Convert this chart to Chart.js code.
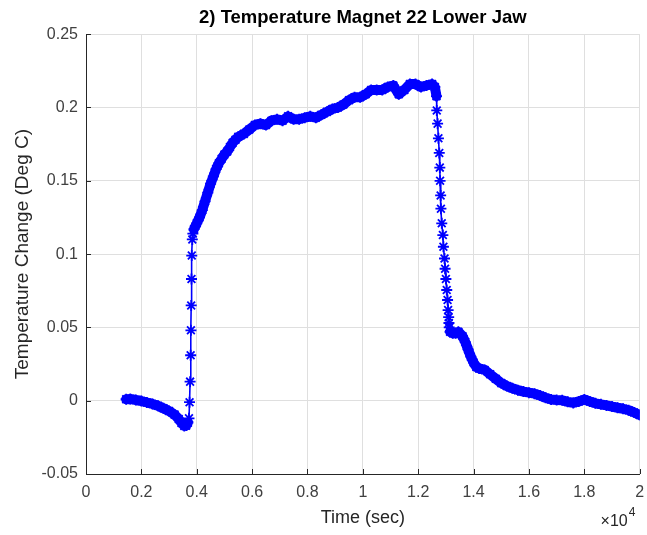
<!DOCTYPE html>
<html>
<head>
<meta charset="utf-8">
<title>Temperature Magnet 22 Lower Jaw</title>
<script src="https://cdn.jsdelivr.net/npm/chart.js@4.4.1/dist/chart.umd.min.js"></script>
<style>
    html, body { margin: 0; padding: 0; background: #fff; }
    canvas { display: block; }
</style>
</head>
<body>
<canvas id="temp-chart" width="647" height="535"></canvas>
<script>
// Time in units of 1e4 sec (axis shows x10^4), temperature change in Deg C
const timeE4 = [
    0.145, 0.16, 0.18, 0.20, 0.22, 0.24, 0.26, 0.28, 0.30, 0.32, 0.335, 0.345, 0.355, 0.362, 0.368,
    0.372, 0.374, 0.376, 0.378, 0.379, 0.380, 0.381, 0.382, 0.384, 0.386,
    0.39, 0.40, 0.41, 0.42, 0.43, 0.44, 0.45, 0.46, 0.47, 0.48, 0.49, 0.50, 0.51, 0.52, 0.53, 0.54, 0.55,
    0.57, 0.59, 0.61, 0.63, 0.65, 0.67, 0.69, 0.71, 0.73, 0.75, 0.77, 0.79, 0.81, 0.83, 0.85, 0.87, 0.89,
    0.91, 0.93, 0.95, 0.97, 0.99, 1.01, 1.03, 1.05, 1.07, 1.09, 1.11, 1.13, 1.15, 1.17, 1.19, 1.21, 1.23,
    1.25, 1.26,
    1.266, 1.267, 1.270, 1.273, 1.276, 1.278, 1.279, 1.281, 1.282, 1.285, 1.289, 1.291, 1.295, 1.297,
    1.300, 1.303, 1.306, 1.308, 1.310, 1.311, 1.312,
    1.315, 1.325, 1.335, 1.345, 1.36, 1.37, 1.38, 1.39, 1.40, 1.41, 1.42, 1.44, 1.46, 1.48, 1.50, 1.52,
    1.54, 1.56, 1.58, 1.60, 1.62, 1.64, 1.66, 1.68, 1.70, 1.72, 1.74, 1.76, 1.78, 1.80, 1.82, 1.84,
    1.86, 1.88, 1.90, 1.92, 1.94, 1.96, 1.98, 2.00
];

const tempChange = [
    0.001, 0.0012, 0.0005, -0.0002, -0.0012, -0.0022, -0.0035, -0.0052, -0.007, -0.0095, -0.0125, -0.0152, -0.0172, -0.017, -0.015,
    -0.012, -0.001, 0.013, 0.031, 0.048, 0.065, 0.083, 0.099, 0.110, 0.114,
    0.117, 0.121, 0.125, 0.130, 0.136, 0.142, 0.148, 0.153, 0.158, 0.162, 0.165, 0.168, 0.170, 0.173, 0.176, 0.178, 0.180,
    0.182, 0.185, 0.188, 0.189, 0.188, 0.191, 0.192, 0.191, 0.194, 0.192, 0.192, 0.193, 0.194, 0.193, 0.195, 0.197, 0.199,
    0.200, 0.202, 0.205, 0.207, 0.207, 0.209, 0.212, 0.212, 0.212, 0.214, 0.215, 0.209, 0.212, 0.216, 0.216, 0.214, 0.215,
    0.216, 0.214,
    0.2077, 0.198, 0.189, 0.179, 0.169, 0.159, 0.150, 0.140, 0.131, 0.121, 0.113, 0.105, 0.097, 0.090,
    0.083, 0.0755, 0.0687, 0.0618, 0.057, 0.053, 0.050,
    0.047, 0.046, 0.046, 0.047, 0.044, 0.040, 0.035, 0.030, 0.026, 0.023, 0.022, 0.021, 0.018, 0.015, 0.012, 0.010,
    0.0085, 0.0072, 0.0062, 0.0055, 0.0048, 0.0035, 0.002, 0.0008, 0.0005, 0.0003, -0.0008, -0.0015, -0.0005, 0.0008, -0.0005, -0.0018,
    -0.0025, -0.0032, -0.004, -0.0048, -0.0055, -0.0065, -0.008, -0.0098
];

const xTicks = [0, 0.2, 0.4, 0.6, 0.8, 1, 1.2, 1.4, 1.6, 1.8, 2];
const yTicks = [-0.05, 0, 0.05, 0.1, 0.15, 0.2, 0.25];

const FONT = '"Liberation Sans", Arial, Helvetica, sans-serif';
const AXIS_COLOR = '#262626';

const TempChart = {
    chart: null,

    init: function() {
        const ctx = document.getElementById('temp-chart');
        if (!ctx) return;

        this.chart = new Chart(ctx, {
            type: 'line',
            data: {
                datasets: [{
                    label: 'Magnet 22 Lower Jaw',
                    data: timeE4.map((t, i) => ({ x: t, y: tempChange[i] })),
                    borderColor: 'rgb(0, 0, 255)',
                    backgroundColor: 'rgb(0, 0, 255)',
                    borderWidth: 1.6,
                    borderCapStyle: 'round',
                    borderJoinStyle: 'round',
                    tension: 0,
                    pointStyle: 'star',
                    pointRadius: 5.5,
                    pointBorderWidth: 1.8,
                    pointBorderColor: 'rgb(0, 0, 255)',
                    // densely sampled stretches read as a thick band of markers
                    segment: {
                        borderWidth: c => (c.p1.parsed.x - c.p0.parsed.x) < 0.006 ? 1.6 : 10
                    }
                }]
            },
            options: {
                responsive: false,
                animation: false,
                devicePixelRatio: 1,
                layout: { padding: { top: 0, right: 6, bottom: 0, left: 0 } },
                plugins: {
                    legend: { display: false },
                    tooltip: { enabled: false },
                    title: {
                        display: true,
                        fullSize: false,
                        text: '2) Temperature Magnet 22 Lower Jaw',
                        color: '#000',
                        font: { family: FONT, size: 18.5, weight: 'bold' },
                        padding: { top: 7, bottom: 5 }
                    }
                },
                scales: {
                    x: {
                        type: 'linear',
                        min: 0,
                        max: 2,
                        afterBuildTicks: scale => { scale.ticks = xTicks.map(v => ({ value: v })); },
                        afterFit: scale => {
                            scale.height = 61;
                            scale.paddingLeft = 0;
                            scale.paddingRight = 0;
                        },
                        ticks: {
                            color: '#404040',
                            font: { family: FONT, size: 16 },
                            padding: 9,
                            maxRotation: 0,
                            callback: v => String(parseFloat(v.toFixed(2)))
                        },
                        grid: { color: '#dfdfdf', drawTicks: false },
                        border: { color: AXIS_COLOR, width: 1 },
                        title: {
                            display: true,
                            text: 'Time (sec)',
                            color: AXIS_COLOR,
                            font: { family: FONT, size: 18 },
                            padding: { top: 0, bottom: 6 }
                        }
                    },
                    y: {
                        type: 'linear',
                        min: -0.05,
                        max: 0.25,
                        afterBuildTicks: scale => { scale.ticks = yTicks.map(v => ({ value: v })); },
                        afterFit: scale => {
                            scale.width = 86;
                            scale.paddingTop = 0;
                            scale.paddingBottom = 0;
                        },
                        ticks: {
                            color: '#404040',
                            font: { family: FONT, size: 16 },
                            padding: 8,
                            callback: v => String(parseFloat(v.toFixed(2)))
                        },
                        grid: { color: '#dfdfdf', drawTicks: false },
                        border: { color: AXIS_COLOR, width: 1 },
                        title: {
                            display: true,
                            text: 'Temperature Change (Deg C)',
                            color: AXIS_COLOR,
                            font: { family: FONT, size: 19 },
                            padding: { top: 11, bottom: 0 }
                        }
                    }
                }
            },
            plugins: [this.axisDecor]
        });
    },

    // MATLAB style inward ticks and the x10^4 exponent label
    axisDecor: {
        id: 'axisDecor',
        beforeDatasetsDraw: function(chart) {
            const { ctx, chartArea: a, scales: { x, y } } = chart;
            ctx.save();
            ctx.strokeStyle = AXIS_COLOR;
            ctx.lineWidth = 1;
            ctx.beginPath();
            x.ticks.forEach(t => {
                const px = Math.round(x.getPixelForValue(t.value)) + 0.5;
                ctx.moveTo(px, a.bottom);
                ctx.lineTo(px, a.bottom - 5);
            });
            y.ticks.forEach(t => {
                const py = Math.round(y.getPixelForValue(t.value)) + 0.5;
                ctx.moveTo(a.left, py);
                ctx.lineTo(a.left + 5, py);
            });
            ctx.stroke();
            ctx.restore();
        },
        afterDraw: function(chart) {
            const { ctx, chartArea: a } = chart;
            ctx.save();
            ctx.fillStyle = AXIS_COLOR;
            ctx.textBaseline = 'middle';
            ctx.textAlign = 'right';
            ctx.font = '16px ' + FONT;
            ctx.fillText('\u00d710', a.right - 12, a.bottom + 48);
            ctx.textAlign = 'left';
            ctx.font = '12px ' + FONT;
            ctx.fillText('4', a.right - 11, a.bottom + 39);
            ctx.restore();
        }
    }
};

document.addEventListener('DOMContentLoaded', function() {
    TempChart.init();
});
</script>
</body>
</html>
